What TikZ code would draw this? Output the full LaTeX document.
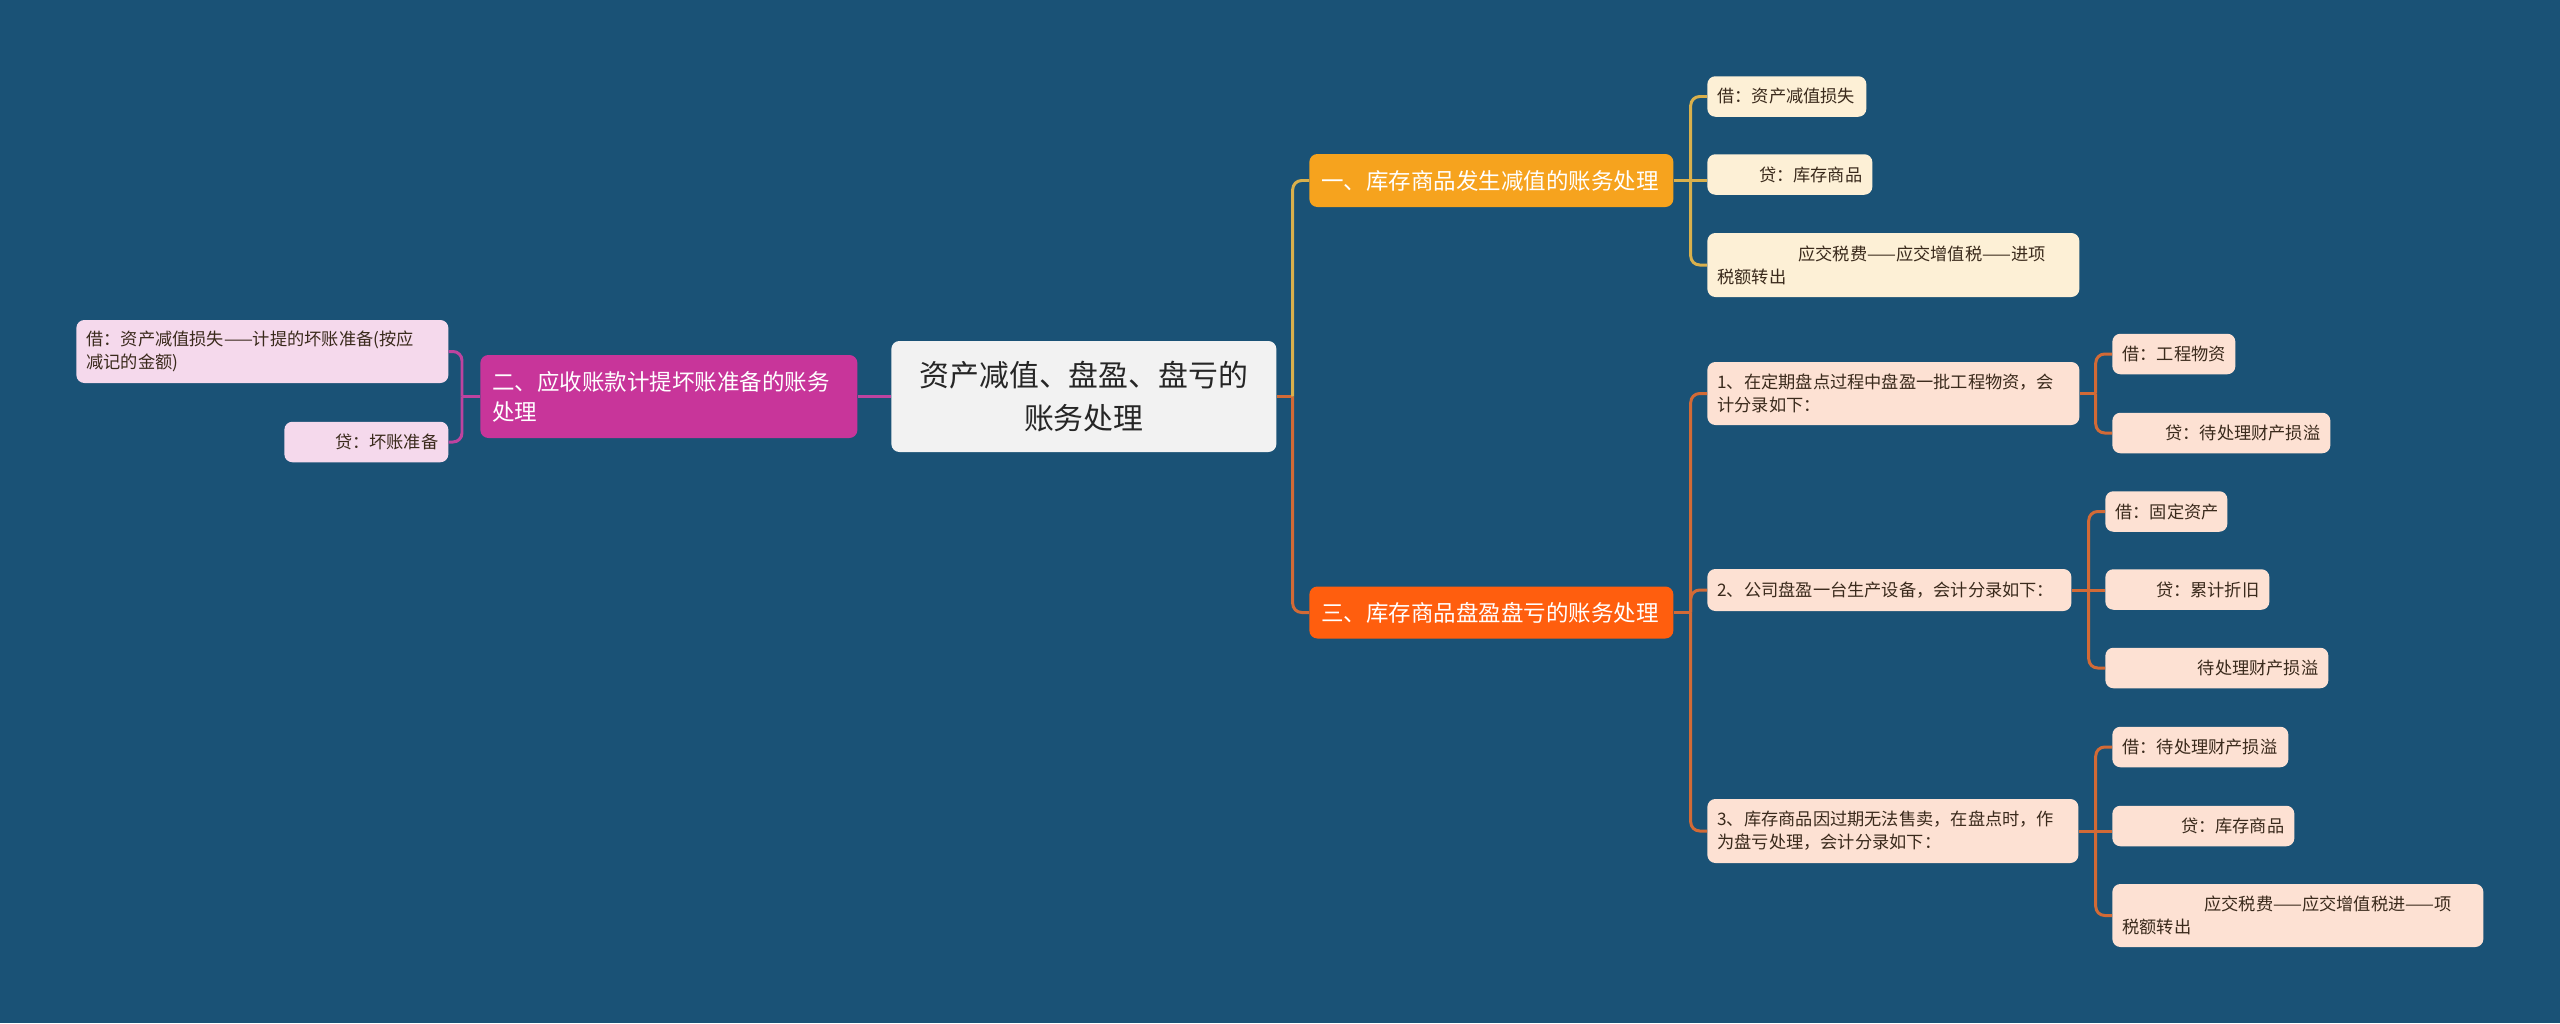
\documentclass[tikz,border=0pt]{standalone}
\usepackage{fontspec}
\setmainfont{Noto Sans CJK SC}
\usepackage{xcolor}
\usepackage{tikz}
\usetikzlibrary{positioning}

\definecolor{bgblue}{HTML}{1A5276}
\definecolor{rootfill}{HTML}{F2F2F2}
\definecolor{pinkfill}{HTML}{C8359A}
\definecolor{amberfill}{HTML}{F6A31E}
\definecolor{flamefill}{HTML}{FF5E0E}
\definecolor{creamfill}{HTML}{FDF0D6}
\definecolor{peachfill}{HTML}{FDE1D3}
\definecolor{rosefill}{HTML}{F5D9EC}
\definecolor{amberline}{HTML}{D9B04C}
\definecolor{flameline}{HTML}{D26A36}
\definecolor{pinkline}{HTML}{BE439F}
\definecolor{leaftext}{HTML}{3A2A1C}

\tikzset{
  mmbox/.style={rounded corners=0.16cm,anchor=west,inner xsep=0.2cm,inner ysep=0.1cm},
  leafbox/.style={mmbox,font=\fontsize{9.8}{13}\selectfont,text=leaftext,minimum height=0.81cm},
  mainbox/.style={mmbox,inner xsep=0.24cm,font=\fontsize{12.8}{17}\selectfont,text=white},
  link/.style={line width=1.7pt,rounded corners=0.18cm}
}
\newcommand{\tleaf}[6]{\node[leafbox,#2,text width=#5cm] (#1) at (#3,#4) {#6};}

\begin{document}
\begin{tikzpicture}
\fill[bgblue] (0,0) rectangle (51.2,-20.46);
\useasboundingbox (0,0) rectangle (51.2,-20.46);

\node[mmbox,fill=rootfill,text=black!85,font=\fontsize{17}{24.4}\selectfont,align=center,text width=7.3cm,minimum height=2.22cm] (root) at (17.82,-7.93) {资产减值、盘盈、盘亏的\\账务处理};
\node[mainbox,fill=pinkfill,align=left,text width=7.06cm,minimum height=1.66cm] (b2) at (9.60,-7.93) {二、应收账款计提坏账准备的账务\\处理};
\node[mainbox,fill=amberfill,align=left,text width=6.80cm,minimum height=1.06cm] (b1) at (26.18,-3.61) {一、库存商品发生减值的账务处理};
\node[mainbox,fill=flamefill,align=left,text width=6.80cm,minimum height=1.04cm] (b3) at (26.18,-12.25) {三、库存商品盘盈盘亏的账务处理};

% branch one
\tleaf{l11}{fill=creamfill,align=left}{34.14}{-1.93}{2.78}{借：资产减值损失}
\tleaf{l12}{fill=creamfill,align=right}{34.14}{-3.49}{2.90}{贷：库存商品}
\tleaf{l13}{fill=creamfill,align=left,minimum height=1.28cm}{34.14}{-5.30}{7.04}{\hspace*{1.62cm}应交税费——应交增值税——进项\\税额转出}

% branch three
\tleaf{s1}{fill=peachfill,align=left,minimum height=1.26cm}{34.14}{-7.87}{7.04}{1、在定期盘点过程中盘盈一批工程物资，会\\计分录如下：}
\tleaf{s2}{fill=peachfill,align=left,minimum height=0.84cm}{34.14}{-11.80}{6.88}{2、公司盘盈一台生产设备，会计分录如下：}
\tleaf{s3}{fill=peachfill,align=left,minimum height=1.28cm}{34.14}{-16.62}{7.02}{3、库存商品因过期无法售卖，在盘点时，作\\为盘亏处理，会计分录如下：}

\tleaf{s1a}{fill=peachfill,align=left}{42.24}{-7.08}{2.06}{借：工程物资}
\tleaf{s1b}{fill=peachfill,align=right}{42.24}{-8.66}{3.96}{贷：待处理财产损溢}
\tleaf{s2a}{fill=peachfill,align=left}{42.10}{-10.23}{2.04}{借：固定资产}
\tleaf{s2b}{fill=peachfill,align=right}{42.10}{-11.79}{2.88}{贷：累计折旧}
\tleaf{s2c}{fill=peachfill,align=right}{42.10}{-13.36}{4.06}{待处理财产损溢}
\tleaf{s3a}{fill=peachfill,align=left}{42.24}{-14.94}{3.12}{借：待处理财产损溢}
\tleaf{s3b}{fill=peachfill,align=right}{42.24}{-16.52}{3.24}{贷：库存商品}
\tleaf{s3c}{fill=peachfill,align=left,minimum height=1.26cm}{42.24}{-18.31}{7.02}{\hspace*{1.64cm}应交税费——应交增值税进——项\\税额转出}

% branch two
\tleaf{ll1}{fill=rosefill,align=left,minimum height=1.26cm}{1.52}{-7.03}{7.04}{借：资产减值损失——计提的坏账准备(按应\\减记的金额)}
\tleaf{ll2}{fill=rosefill,align=right}{5.68}{-8.84}{2.88}{贷：坏账准备}

% connectors
\coordinate[right=0.32cm of root] (jr);
\draw[link,flameline] (root.east) -- (jr);
\draw[link,amberline] (jr) |- (b1.west);
\draw[link,flameline] (jr) |- (b3.west);
\draw[link,pinkline] (root.west) -- (b2.east);

\coordinate[left=0.36cm of b2] (j2);
\draw[link,pinkline] (b2.west) -- (j2);
\foreach \c in {ll1,ll2}
  { \draw[link,pinkline] (j2) |- (\c.east); }

\coordinate[right=0.34cm of b1] (j1);
\draw[link,amberline] (b1.east) -- (j1) -- (j1 -| l12.west);
\foreach \c in {l11,l13}
  { \draw[link,amberline] (j1) |- (\c.west); }

\coordinate[right=0.34cm of b3] (j3);
\draw[link,flameline] (b3.east) -- (j3);
\foreach \c in {s1,s2,s3}
  { \draw[link,flameline] (j3) |- (\c.west); }

\coordinate[right=0.32cm of s1] (js1);
\draw[link,flameline] (s1.east) -- (js1);
\foreach \c in {s1a,s1b}
  { \draw[link,flameline] (js1) |- (\c.west); }

\coordinate[right=0.34cm of s2] (js2);
\draw[link,flameline] (s2.east) -- (js2) -- (js2 -| s2b.west);
\foreach \c in {s2a,s2c}
  { \draw[link,flameline] (js2) |- (\c.west); }

\coordinate[right=0.34cm of s3] (js3);
\draw[link,flameline] (s3.east) -- (js3) -- (js3 -| s3b.west);
\foreach \c in {s3a,s3c}
  { \draw[link,flameline] (js3) |- (\c.west); }
\end{tikzpicture}
\end{document}
